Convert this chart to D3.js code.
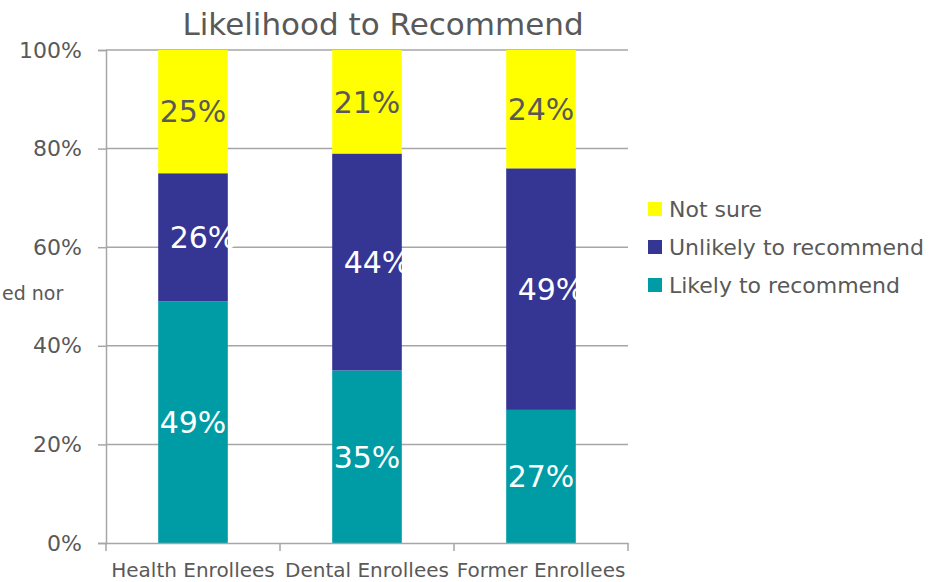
<!DOCTYPE html>
<html>
<head>
<meta charset="utf-8">
<script src="https://cdn.jsdelivr.net/npm/d3@7"></script>
<style>
  html, body { margin: 0; padding: 0; background: #fff; overflow: hidden; }
  svg { display: block; font-family: "DejaVu Sans", sans-serif; }
</style>
</head>
<body>
<svg id="chart" width="939" height="582"></svg>
<script>
// Survey groups and share of answers (percent) per group
const categories = ["Health Enrollees", "Dental Enrollees", "Former Enrollees"];
const likely   = [49, 35, 27];
const unlikely = [26, 44, 49];
const notSure  = [25, 21, 24];
const yTicks = [0, 20, 40, 60, 80, 100];

const seriesNames = ["Likely to recommend", "Unlikely to recommend", "Not sure"];
const seriesColors = ["#009CA6", "#353594", "#FFFF00"];
const labelColors = ["#ffffff", "#ffffff", "#595959"];
const labelShift = [0, 10, 0];

const svg = d3.select("#chart");
const margin = { left: 106, right: 311, top: 50, bottom: 39 };
const W = 939, H = 582;
const FONT = "'DejaVu Sans', sans-serif";

const x = d3.scaleBand().domain(categories)
  .range([margin.left, W - margin.right]).paddingInner(0.6).paddingOuter(0.3);
const xGroup = d3.scaleBand().domain(categories)
  .range([margin.left, W - margin.right]);
const y = d3.scaleLinear().domain([0, 100]).range([H - margin.bottom, margin.top]);

const rows = categories.map((c, i) => ({
  cat: c,
  "Likely to recommend": likely[i],
  "Unlikely to recommend": unlikely[i],
  "Not sure": notSure[i]
}));
const stacked = d3.stack().keys(seriesNames)(rows);

const grey = "#a6a6a6";
const textGrey = "#595959";

// horizontal gridlines
svg.append("g").selectAll("line").data(yTicks.filter(t => t > 0)).join("line")
  .attr("x1", margin.left).attr("x2", W - margin.right)
  .attr("y1", d => y(d)).attr("y2", d => y(d))
  .attr("stroke", grey).attr("stroke-width", 1.5);

// y axis
const yAxis = svg.append("g").attr("transform", `translate(${margin.left},0)`)
  .call(d3.axisLeft(y).tickValues(yTicks).tickFormat(d => d + "%").tickSize(8).tickPadding(16));
yAxis.select(".domain").attr("stroke", grey).attr("stroke-width", 1.5);
yAxis.selectAll(".tick line").attr("stroke", grey).attr("stroke-width", 1.5);
yAxis.selectAll(".tick text").attr("fill", textGrey)
  .style("font-size", "22px").style("font-family", FONT);

// bars
const layers = svg.append("g").selectAll("g").data(stacked).join("g")
  .attr("fill", (d, i) => seriesColors[i]);
layers.selectAll("rect").data(d => d).join("rect")
  .attr("x", d => x(d.data.cat))
  .attr("width", x.bandwidth())
  .attr("y", d => y(d[1]))
  .attr("height", d => y(d[0]) - y(d[1]));

// value labels
stacked.forEach((layer, si) => {
  svg.append("g").selectAll("text").data(layer).join("text")
    .attr("x", d => x(d.data.cat) + x.bandwidth() / 2 + labelShift[si])
    .attr("y", d => (y(d[0]) + y(d[1])) / 2)
    .attr("dy", "0.36em")
    .attr("text-anchor", "middle")
    .attr("fill", labelColors[si])
    .style("font-size", "30px")
    .text(d => (d[1] - d[0]) + "%");
});

// x axis
const xAxis = svg.append("g").attr("transform", `translate(0,${H - margin.bottom})`)
  .call(d3.axisBottom(xGroup).tickSize(0).tickPadding(20));
xAxis.select(".domain").attr("stroke", grey).attr("stroke-width", 1.5);
xAxis.selectAll(".tick text").attr("fill", textGrey)
  .style("font-size", "20px").style("font-family", FONT);
// category boundary ticks
const bounds = categories.map(c => xGroup(c)).concat([W - margin.right]);
svg.append("g").selectAll("line").data(bounds).join("line")
  .attr("x1", d => d).attr("x2", d => d)
  .attr("y1", H - margin.bottom).attr("y2", H - margin.bottom + 8)
  .attr("stroke", grey).attr("stroke-width", 1.5);

// title
svg.append("text").attr("x", 383).attr("y", 35).attr("text-anchor", "middle")
  .attr("fill", textGrey).style("font-size", "31px").text("Likelihood to Recommend");

// side label fragment at the left edge
svg.append("text").attr("x", 2).attr("y", 300).attr("text-anchor", "start")
  .attr("fill", textGrey).style("font-size", "19px").text("ed nor");

// legend (reverse order, top = last series)
const legendItems = seriesNames.map((n, i) => ({ n, c: seriesColors[i] })).reverse();
const lg = svg.append("g").attr("transform", "translate(648,209)");
const item = lg.selectAll("g").data(legendItems).join("g")
  .attr("transform", (d, i) => `translate(0,${i * 38})`);
item.append("rect").attr("x", 0).attr("y", -7).attr("width", 14).attr("height", 14)
  .attr("fill", d => d.c);
item.append("text").attr("x", 21).attr("y", 0).attr("dy", "0.36em")
  .attr("fill", textGrey).style("font-size", "22px").text(d => d.n);
</script>
</body>
</html>
